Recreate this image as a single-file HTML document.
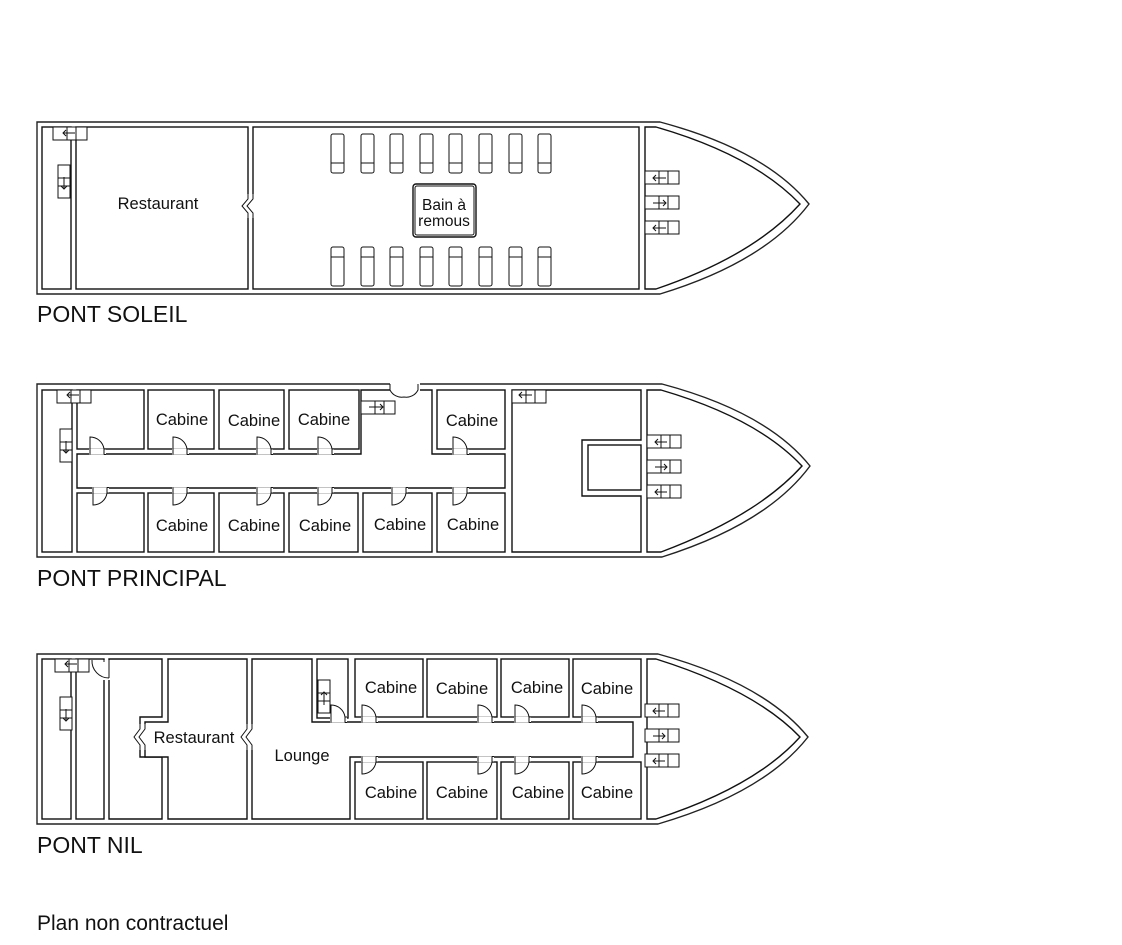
<!DOCTYPE html>
<html><head><meta charset="utf-8"><style>
html,body{margin:0;padding:0;background:#fff;}
svg{display:block}
text{font-family:"Liberation Sans",sans-serif;fill:#111}
.r{fill:#fff;stroke:#111;stroke-width:1.4}
.h{fill:#fff;stroke:#222;stroke-width:1.4}
.s{fill:#fff;stroke:#111;stroke-width:1}
.l{fill:none;stroke:#111;stroke-width:1}
</style></head><body>
<svg width="1122" height="945" viewBox="0 0 1122 945" xmlns="http://www.w3.org/2000/svg">
<defs>
<g id="du"><rect x="-1" y="-0.5" width="17" height="6" fill="#fff" stroke="none"/><path d="M0,5.5 V-12 A14,14 0 0 1 14,0 V5.5" class="l" stroke-width="1.3"/><path d="M14,0 H16 M14,5.5 H16" class="l"/></g>
<g id="sh"><rect x="0" y="0" width="34" height="13" class="s"/><line x1="14" y1="0" x2="14" y2="13" class="l"/><line x1="23" y1="0" x2="23" y2="13" class="l"/></g>
<g id="sv"><rect x="0" y="0" width="12" height="33" class="s"/><line x1="0" y1="13" x2="12" y2="13" class="l"/><line x1="0" y1="21" x2="12" y2="21" class="l"/></g>
<g id="lg"><rect x="0" y="0" width="13" height="39" rx="2" class="s"/><line x1="0" y1="29" x2="13" y2="29" class="l"/></g>
<g id="lg2"><rect x="0" y="0" width="13" height="39" rx="2" class="s"/><line x1="0" y1="10" x2="13" y2="10" class="l"/></g>
</defs>

<!-- ===== PONT SOLEIL ===== -->
<path class="h" d="M37,122 H660 Q765,150 809,204 Q765,262 660,294 H37 Z"/>
<rect class="r" x="42" y="127" width="29" height="162"/>
<rect class="r" x="76" y="127" width="172" height="162"/>
<rect class="r" x="253" y="127" width="386" height="162"/>
<path class="r" d="M645,127 H656 Q753,155 800,204 Q753,256 656,289 H645 Z"/>
<rect x="247" y="194" width="8" height="24" fill="#fff"/>
<path class="l" stroke-width="1.3" d="M248,194 V199 L242,206 L248,213 V218 M253,194 V199 L247,206 L253,213 V218"/>
<use href="#sh" x="53" y="127"/><path class="l" d="M75,133 H63 M66,130 L63,133 L66,136"/>
<use href="#sv" x="58" y="165"/><path class="l" d="M64,177 V189 M61,186 L64,189 L67,186"/>
<g>
<use href="#lg" x="331" y="134"/><use href="#lg" x="361" y="134"/><use href="#lg" x="390" y="134"/><use href="#lg" x="420" y="134"/><use href="#lg" x="449" y="134"/><use href="#lg" x="479" y="134"/><use href="#lg" x="509" y="134"/><use href="#lg" x="538" y="134"/>
<use href="#lg2" x="331" y="247"/><use href="#lg2" x="361" y="247"/><use href="#lg2" x="390" y="247"/><use href="#lg2" x="420" y="247"/><use href="#lg2" x="449" y="247"/><use href="#lg2" x="479" y="247"/><use href="#lg2" x="509" y="247"/><use href="#lg2" x="538" y="247"/>
</g>
<rect x="413" y="184" width="63" height="53" rx="3" fill="#fff" stroke="#111" stroke-width="1.4"/>
<rect x="415" y="186" width="59" height="49" rx="2" fill="none" stroke="#111" stroke-width="1"/>
<text x="444" y="210" font-size="15.5" text-anchor="middle">Bain à</text>
<text x="444" y="226" font-size="15.5" text-anchor="middle">remous</text>
<use href="#sh" x="645" y="171"/><path class="l" d="M666,178 H653 M656,175 L653,178 L656,181"/>
<use href="#sh" x="645" y="196"/><path class="l" d="M653,203 H666 M663,200 L666,203 L663,206"/>
<use href="#sh" x="645" y="221"/><path class="l" d="M666,228 H653 M656,225 L653,228 L656,231"/>
<text x="158" y="209" font-size="16.5" text-anchor="middle">Restaurant</text>
<text x="37" y="322" font-size="23">PONT SOLEIL</text>

<!-- ===== PONT PRINCIPAL ===== -->
<path class="h" d="M37,384 H662 Q767,412 810,466 Q767,524 662,557 H37 Z"/>
<rect class="r" x="42" y="390" width="30" height="162"/>
<rect class="r" x="77" y="390" width="67" height="59"/>
<rect class="r" x="148" y="390" width="66" height="59"/>
<rect class="r" x="219" y="390" width="65" height="59"/>
<rect class="r" x="289" y="390" width="70" height="59"/>
<rect class="r" x="437" y="390" width="68" height="59"/>
<path class="r" d="M77,454 H361 V390 H432 V454 H505 V488 H77 Z"/>
<rect class="r" x="77" y="493" width="67" height="59"/>
<rect class="r" x="148" y="493" width="66" height="59"/>
<rect class="r" x="219" y="493" width="65" height="59"/>
<rect class="r" x="289" y="493" width="69" height="59"/>
<rect class="r" x="363" y="493" width="69" height="59"/>
<rect class="r" x="437" y="493" width="68" height="59"/>
<path class="r" d="M512,390 H641 V440 H582 V496 H641 V552 H512 Z"/>
<rect class="r" x="588" y="445" width="53" height="45"/>
<path class="r" d="M647,390 H661 Q757,418 802,466 Q757,516 661,552 H647 Z"/>
<rect x="390" y="383" width="30" height="8" fill="#fff"/>
<path class="l" stroke-width="1.3" d="M390,384 V390 A13,13 0 0 0 404,397 M418,384 V390 A13,13 0 0 1 404,397"/>
<use href="#du" x="90" y="449"/><use href="#du" x="173" y="449"/><use href="#du" x="257" y="449"/><use href="#du" x="318" y="449"/><use href="#du" x="453" y="449"/>
<g transform="translate(0,942) scale(1,-1)">
<use href="#du" x="93" y="449"/><use href="#du" x="173" y="449"/><use href="#du" x="257" y="449"/><use href="#du" x="318" y="449"/><use href="#du" x="392" y="449"/><use href="#du" x="453" y="449"/>
</g>
<use href="#sh" x="57" y="390"/><path class="l" d="M79,395 H67 M70,392 L67,395 L70,398"/>
<use href="#sv" x="60" y="429"/><path class="l" d="M66,441 V453 M63,450 L66,453 L69,450"/>
<use href="#sh" x="361" y="401"/><path class="l" d="M369,407 H383 M380,404 L383,407 L380,410"/>
<use href="#sh" x="512" y="390"/><path class="l" d="M532,395 H519 M522,392 L519,395 L522,398"/>
<use href="#sh" x="647" y="435"/><path class="l" d="M667,442 H655 M658,439 L655,442 L658,445"/>
<use href="#sh" x="647" y="460"/><path class="l" d="M655,467 H667 M664,464 L667,467 L664,470"/>
<use href="#sh" x="647" y="485"/><path class="l" d="M667,492 H655 M658,489 L655,492 L658,495"/>
<g font-size="16.5" text-anchor="middle">
<text x="182" y="425">Cabine</text><text x="254" y="426">Cabine</text><text x="324" y="425">Cabine</text><text x="472" y="426">Cabine</text>
<text x="182" y="531">Cabine</text><text x="254" y="531">Cabine</text><text x="325" y="531">Cabine</text><text x="400" y="530">Cabine</text><text x="473" y="530">Cabine</text>
</g>
<text x="37" y="586" font-size="23">PONT PRINCIPAL</text>

<!-- ===== PONT NIL ===== -->
<path class="h" d="M37,654 H658 Q764,683 808,737 Q764,793 658,824 H37 Z"/>
<rect class="r" x="42" y="659" width="29" height="160"/>
<rect class="r" x="76" y="659" width="28" height="160"/>
<path class="r" d="M109,659 H162 V717 H140 V757 H162 V819 H109 Z"/>
<path class="r" d="M168,659 H247 V819 H168 V757 H145 V722 H168 Z"/>
<path class="r" d="M252,659 H312 V722 H633 V757 H350 V819 H252 Z"/>
<rect class="r" x="317" y="659" width="31" height="59"/>
<rect class="r" x="355" y="659" width="68" height="58"/>
<rect class="r" x="427" y="659" width="70" height="58"/>
<rect class="r" x="501" y="659" width="68" height="58"/>
<rect class="r" x="573" y="659" width="68" height="58"/>
<rect class="r" x="355" y="762" width="68" height="57"/>
<rect class="r" x="427" y="762" width="70" height="57"/>
<rect class="r" x="501" y="762" width="68" height="57"/>
<rect class="r" x="573" y="762" width="68" height="57"/>
<path class="r" d="M647,659 H656 Q755,690 800,737 Q755,787 656,819 H647 Z"/>
<rect x="139" y="724" width="8" height="26" fill="#fff"/>
<path class="l" stroke-width="1.3" d="M140,724 V729 L134,737 L140,745 V750 M145,724 V729 L139,737 L145,745 V750"/>
<rect x="246" y="724" width="8" height="26" fill="#fff"/>
<path class="l" stroke-width="1.3" d="M247,724 V729 L241,737 L247,745 V750 M252,724 V729 L246,737 L252,745 V750"/>
<rect x="103" y="660" width="8" height="20" fill="#fff"/>
<path class="l" stroke-width="1.3" d="M92,660 A17,17 0 0 0 109,678 M104,660 V662 M109,660 V678"/>
<use href="#du" x="331" y="717"/><use href="#du" x="362" y="717"/><use href="#du" x="478" y="717"/><use href="#du" x="515" y="717"/><use href="#du" x="582" y="717"/>
<g transform="translate(0,1479) scale(1,-1)">
<use href="#du" x="362" y="717"/><use href="#du" x="478" y="717"/><use href="#du" x="515" y="717"/><use href="#du" x="582" y="717"/>
</g>
<use href="#sh" x="55" y="659"/><path class="l" d="M77,664 H65 M68,661 L65,664 L68,667"/>
<use href="#sv" x="60" y="697"/><path class="l" d="M66,709 V721 M63,718 L66,721 L69,718"/>
<use href="#sv" x="318" y="680"/><path class="l" d="M324,705 V692 M321,695 L324,692 L327,695"/>
<use href="#sh" x="645" y="704"/><path class="l" d="M665,711 H653 M656,708 L653,711 L656,714"/>
<use href="#sh" x="645" y="729"/><path class="l" d="M653,736 H665 M662,733 L665,736 L662,739"/>
<use href="#sh" x="645" y="754"/><path class="l" d="M665,761 H653 M656,758 L653,761 L656,764"/>
<g font-size="16.5" text-anchor="middle">
<text x="391" y="693">Cabine</text><text x="462" y="694">Cabine</text><text x="537" y="693">Cabine</text><text x="607" y="694">Cabine</text>
<text x="391" y="798">Cabine</text><text x="462" y="798">Cabine</text><text x="538" y="798">Cabine</text><text x="607" y="798">Cabine</text>
<text x="194" y="743">Restaurant</text><text x="302" y="761">Lounge</text>
</g>
<text x="37" y="853" font-size="23">PONT NIL</text>

<text x="37" y="930" font-size="21">Plan non contractuel</text>
</svg>
</body></html>
